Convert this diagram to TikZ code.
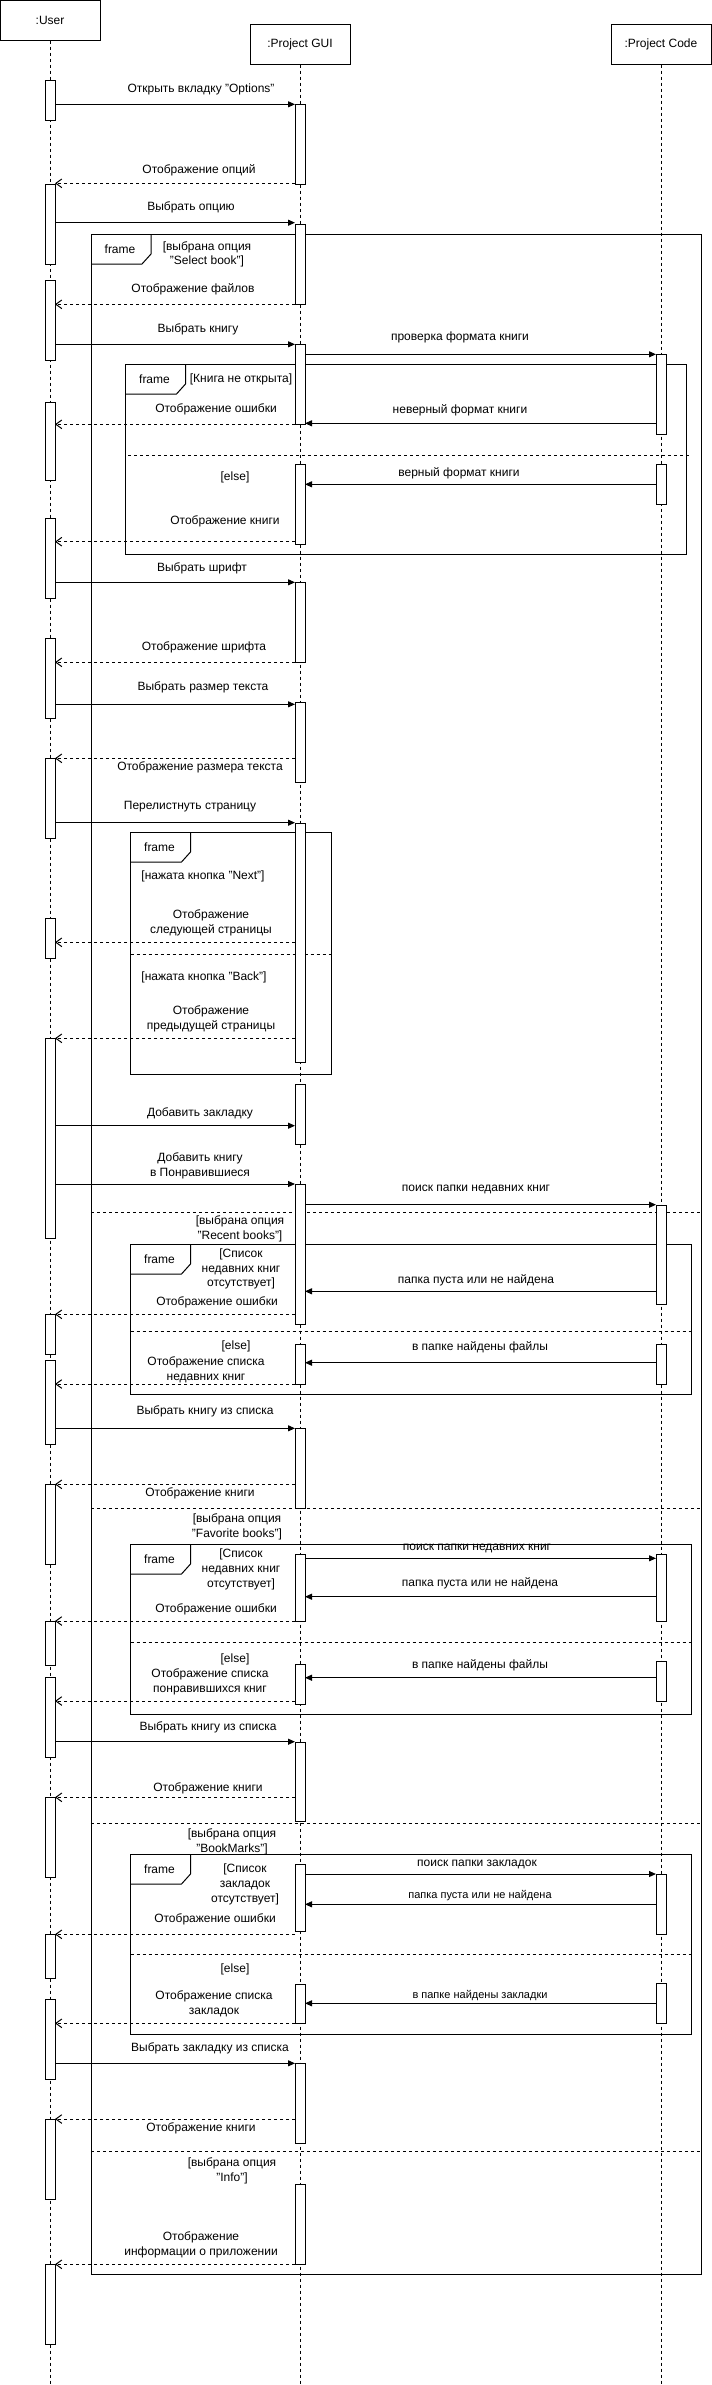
\documentclass[tikz,border=0pt]{standalone}
\usepackage{fontspec}
\setmainfont{Liberation Sans}
\usetikzlibrary{arrows.meta}
\newcommand\actbar[4]{\node[actbar, minimum height={(#4-#3)*0.75pt}] (#1) at (#2,{(#3+#4)/2}) {};}
\newcommand\seqmsg[5]{\coordinate (#2s) at (#3,#5);\coordinate (#2e) at (#4,#5);\draw[#1] (#2s) -- (#2e);}
\newcommand\umlframe[6]{%
  \draw (#2,#3) rectangle (#4,#5);
  \draw (#2,#3+30) -- (#2+51,#3+30) -- (#2+60,#3+20) -- (#2+60,#3);
  \node[lbl] (#1) at (#2+29,#3+15) {#6};}
\newcommand\sepline[3]{\draw[sep] (#1,#3) -- (#2,#3);}
\begin{document}
\begin{tikzpicture}[x=0.75pt,y=-0.75pt, line width=0.75pt,
  lbl/.style={font=\fontsize{9}{11}\selectfont, inner sep=0pt, align=center, text=black},
  slbl/.style={lbl, font=\fontsize{8.25}{10}\selectfont},
  head/.style={draw, fill=white, minimum width=75pt, minimum height=30pt, inner sep=0pt, font=\fontsize{9}{11}\selectfont},
  lifeline/.style={dash pattern=on 2.25pt off 2.25pt},
  actbar/.style={draw, fill=white, minimum width=7.5pt, inner sep=0pt, outer sep=0pt},
  call/.style={-{Triangle[length=5.25pt,width=4.5pt]}},
  ret/.style={dash pattern=on 2.25pt off 2.25pt, -{Straight Barb[length=4.5pt,width=6.5pt]}},
  sep/.style={dash pattern=on 2.25pt off 2.25pt},
]
\useasboundingbox (0,0) rectangle (712,2385);
% heads
\node[head] (user) at (50,20) {:User};
\node[head] (gui) at (300,44) {:Project GUI};
\node[head] (code) at (661,44) {:Project Code};
\coordinate (userend) at (50,2385);
\coordinate (guiend) at (300,2385);
\coordinate (codeend) at (661,2385);
\draw[lifeline] (user.south) -- (userend);
\draw[lifeline] (gui.south) -- (guiend);
\draw[lifeline] (code.south) -- (codeend);
% frames
\umlframe{fr0}{91}{234}{701}{2274}{frame}
\umlframe{fr1}{125.5}{364}{686}{554}{frame}
\sepline{128}{689}{455}
\umlframe{fr3}{130.5}{832}{331}{1074}{frame}
\sepline{130.5}{331}{954}
\umlframe{fr4}{130.5}{1244}{691}{1394}{frame}
\sepline{130.5}{691}{1331}
\umlframe{fr5}{130.5}{1544}{691}{1714}{frame}
\sepline{130.5}{693}{1642}
\umlframe{fr6}{130.5}{1854}{691}{2034}{frame}
\sepline{130.5}{691}{1954}
\sepline{91}{701}{1212}
\sepline{91}{701}{1508}
\sepline{91}{701}{1823}
\sepline{91}{701}{2151}
% user bars
\actbar{u1}{50}{80}{120}
\actbar{u2}{50}{184}{264}
\actbar{u3}{50}{280}{360}
\actbar{u4}{50}{402}{480}
\actbar{u5}{50}{518}{598}
\actbar{u6}{50}{638}{718}
\actbar{u7}{50}{758}{838}
\actbar{u8}{50}{918}{958}
\actbar{u9}{50}{1038}{1238}
\actbar{u10}{50}{1314}{1354}
\actbar{u11}{50}{1360}{1444}
\actbar{u12}{50}{1484}{1564}
\actbar{u13}{50}{1621}{1665}
\actbar{u14}{50}{1677}{1757}
\actbar{u15}{50}{1797}{1877}
\actbar{u16}{50}{1934}{1978}
\actbar{u17}{50}{1999}{2079}
\actbar{u18}{50}{2119}{2199}
\actbar{u19}{50}{2264}{2344}
% gui bars
\actbar{g1}{300}{104}{184}
\actbar{g2}{300}{224}{304}
\actbar{g3}{300}{344}{424}
\actbar{g4}{300}{464}{544}
\actbar{g5}{300}{582}{662}
\actbar{g6}{300}{702}{782}
\actbar{g7}{300}{823}{1062}
\actbar{g8}{300}{1084}{1144}
\actbar{g9}{300}{1184}{1324}
\actbar{g10}{300}{1344}{1384}
\actbar{g11}{300}{1428}{1508}
\actbar{g12}{300}{1554}{1621}
\actbar{g13}{300}{1664}{1704}
\actbar{g14}{300}{1742}{1821}
\actbar{g15}{300}{1864}{1931}
\actbar{g16}{300}{1984}{2023}
\actbar{g17}{300}{2063}{2143}
\actbar{g18}{300}{2184}{2264}
% code bars
\actbar{c1}{661}{354}{434}
\actbar{c2}{661}{464}{504}
\actbar{c3}{661}{1205}{1304}
\actbar{c4}{661}{1344}{1384}
\actbar{c5}{661}{1554}{1621}
\actbar{c6}{661}{1661}{1701}
\actbar{c7}{661}{1874}{1934}
\actbar{c8}{661}{1983}{2023}
% messages
\seqmsg{call}{m1}{55}{295}{104.3}
\seqmsg{ret}{m2}{295}{55}{183.3}
\seqmsg{call}{m3}{55}{295}{222.7}
\seqmsg{ret}{m4}{295}{55}{304.3}
\seqmsg{call}{m5}{55}{295}{344.3}
\seqmsg{call}{m6}{305}{656}{354.3}
\seqmsg{call}{m7}{656}{305}{423.3}
\seqmsg{ret}{m8}{295}{55}{424.3}
\seqmsg{call}{m9}{656}{305}{484.3}
\seqmsg{ret}{m10}{295}{55}{541.7}
\seqmsg{call}{m11}{55}{295}{582.3}
\seqmsg{ret}{m12}{295}{55}{662.3}
\seqmsg{call}{m13}{55}{295}{704.3}
\seqmsg{ret}{m14}{295}{55}{758.3}
\seqmsg{call}{m15}{55}{295}{822.7}
\seqmsg{ret}{m16}{295}{55}{942.3}
\seqmsg{ret}{m17}{295}{55}{1038.3}
\seqmsg{call}{m18}{55}{295}{1125.7}
\seqmsg{call}{m19}{55}{295}{1184}
\seqmsg{call}{m20}{305}{656}{1204.7}
\seqmsg{call}{m21}{656}{305}{1291.3}
\seqmsg{ret}{m22}{295}{55}{1314.3}
\seqmsg{call}{m23}{656}{305}{1362.7}
\seqmsg{ret}{m24}{295}{55}{1384}
\seqmsg{call}{m25}{55}{295}{1428.3}
\seqmsg{ret}{m26}{295}{55}{1484.3}
\seqmsg{call}{m27}{305}{656}{1558.3}
\seqmsg{call}{m28}{656}{305}{1596.7}
\seqmsg{ret}{m29}{295}{55}{1621}
\seqmsg{call}{m30}{656}{305}{1677.7}
\seqmsg{ret}{m31}{295}{55}{1701}
\seqmsg{call}{m32}{55}{295}{1741.7}
\seqmsg{ret}{m33}{295}{55}{1797.3}
\seqmsg{call}{m34}{305}{656}{1874}
\seqmsg{call}{m35}{656}{305}{1904.3}
\seqmsg{ret}{m36}{295}{55}{1934.3}
\seqmsg{call}{m37}{656}{305}{2003.3}
\seqmsg{ret}{m38}{295}{55}{2023.3}
\seqmsg{call}{m39}{55}{295}{2063.3}
\seqmsg{ret}{m40}{295}{55}{2119}
\seqmsg{ret}{m41}{295}{55}{2264.3}
% message labels
\node[lbl] (l1) at (201,89) {Открыть вкладку "Options"};
\node[lbl] (l2) at (199,170) {Отображение опций};
\node[lbl] (l3) at (191,207) {Выбрать опцию};
\node[lbl] (l4) at (193,289) {Отображение файлов};
\node[lbl] (l5) at (198,329) {Выбрать книгу};
\node[lbl] (l6) at (460,337) {проверка формата книги};
\node[lbl] (l7) at (460,410) {неверный формат книги};
\node[lbl] (l8) at (216,409) {Отображение ошибки};
\node[lbl] (l9) at (459,473) {верный формат книги};
\node[lbl] (l10) at (225,521) {Отображение книги};
\node[lbl] (l11) at (202,568) {Выбрать шрифт};
\node[lbl] (l12) at (204,647) {Отображение шрифта};
\node[lbl] (l13) at (203,687) {Выбрать размер текста};
\node[lbl] (l14) at (200,767) {Отображение размера текста};
\node[lbl] (l15) at (190,807) {Перелистнуть страницу};
\node[lbl] (l16) at (211,922.5) {Отображение\\следующей страницы};
\node[lbl] (l17) at (211,1018.5) {Отображение\\предыдущей страницы};
\node[lbl] (l18) at (200,1113) {Добавить закладку};
\node[lbl] (l19) at (200,1165.5) {Добавить книгу\\в Понравившиеся};
\node[lbl] (l20) at (476,1189) {поиск папки недавних книг};
\node[lbl] (l21) at (476,1280) {папка пуста или не найдена};
\node[lbl] (l22) at (217,1302) {Отображение ошибки};
\node[lbl] (l23) at (480,1347) {в папке найдены файлы};
\node[lbl] (l24) at (206,1369.5) {Отображение списка\\недавних книг};
\node[lbl] (l25) at (205,1411) {Выбрать книгу из списка};
\node[lbl] (l26) at (200,1493) {Отображение книги};
\node[lbl] (l27) at (477,1548) {поиск папки недавних книг};
\node[lbl] (l28) at (480,1583) {папка пуста или не найдена};
\node[lbl] (l29) at (216,1609) {Отображение ошибки};
\node[lbl] (l30) at (480,1665) {в папке найдены файлы};
\node[lbl] (l31) at (210,1681.5) {Отображение списка\\понравившихся книг};
\node[lbl] (l32) at (208,1727) {Выбрать книгу из списка};
\node[lbl] (l33) at (208,1788) {Отображение книги};
\node[lbl] (l34) at (477,1864) {поиск папки закладок};
\node[slbl] (l35) at (480,1896) {папка пуста или не найдена};
\node[lbl] (l36) at (215,1919) {Отображение ошибки};
\node[slbl] (l37) at (480,1995) {в папке найдены закладки};
\node[lbl] (l38) at (214,2003.5) {Отображение списка\\закладок};
\node[lbl] (l39) at (210,2048) {Выбрать закладку из списка};
\node[lbl] (l40) at (201,2128) {Отображение книги};
\node[lbl] (l41) at (201,2244.5) {Отображение\\информации о приложении};
% guard conditions
\node[lbl] (k1) at (207,254.5) {[выбрана опция\\"Select book"]};
\node[lbl] (k2) at (241,379) {[Книга не открыта]};
\node[lbl] (k3) at (235,477) {[else]};
\node[lbl] (k4) at (203,876) {[нажата кнопка "Next"]};
\node[lbl] (k5) at (204,977) {[нажата кнопка "Back"]};
\node[lbl] (k6) at (240,1228.5) {[выбрана опция\\"Recent books"]};
\node[lbl] (k7) at (241,1269) {[Список\\недавних книг\\отсутствует]};
\node[lbl] (k8) at (236,1346) {[else]};
\node[lbl] (k9) at (237,1526.5) {[выбрана опция\\"Favorite books"]};
\node[lbl] (k10) at (241,1569.5) {[Список\\недавних книг\\отсутствует]};
\node[lbl] (k11) at (235,1659) {[else]};
\node[lbl] (k12) at (232,1841.5) {[выбрана опция\\"BookMarks"]};
\node[lbl] (k13) at (245,1884.5) {[Список\\закладок\\отсутствует]};
\node[lbl] (k14) at (235,1969) {[else]};
\node[lbl] (k15) at (232,2170.5) {[выбрана опция\\"Info"]};
\end{tikzpicture}
\end{document}
